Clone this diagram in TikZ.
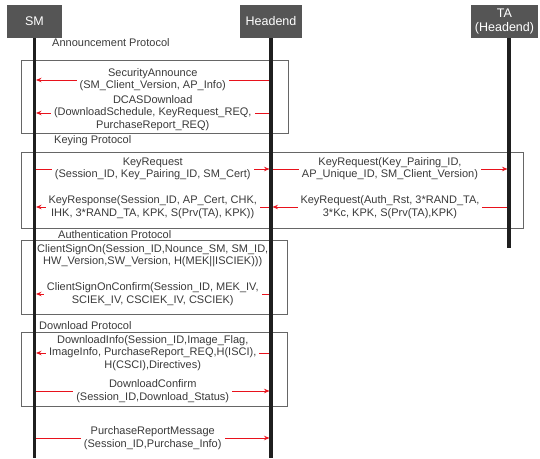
\documentclass[tikz,border=0pt]{standalone}
\usepackage{fontspec}
\setmainfont{Liberation Sans}
\usetikzlibrary{arrows.meta,calc}
\definecolor{hdr}{HTML}{555555}
\definecolor{msgred}{HTML}{E8121C}
\definecolor{txt}{HTML}{3A3A3A}
\definecolor{frm}{HTML}{666666}

% one message: y position, sender lifeline, receiver lifeline, label
\newcommand\sendmsg[4]{%
  \draw[msg] (#2 |- 0,#1) -- (#3 |- 0,#1);
  \node[lbl] at ($(#2 |- 0,#1)!.5!(#3 |- 0,#1)$) {#4};}

\begin{document}
\begin{tikzpicture}[x=1pt,y=-1pt,
  actor/.style={fill=hdr,text=white,font=\fontsize{12.5}{14}\selectfont,align=center,inner sep=0pt,minimum height=33pt},
  lifeline/.style={line width=3.4pt,draw=black!88},
  frame/.style={draw=frm,line width=0.8pt},
  ftitle/.style={anchor=west,text=txt,font=\fontsize{11}{12}\selectfont,inner sep=0pt},
  msg/.style={draw=msgred,line width=0.9pt,shorten >=1.5pt,shorten <=1.5pt,-{Stealth[length=5.5pt,width=4.5pt]}},
  lbl/.style={fill=white,text=txt,font=\fontsize{11}{12.3}\selectfont,align=center,inner xsep=3pt,inner ysep=0pt}]
\useasboundingbox (0,0) rectangle (540,458);

% participants
\node[actor,minimum width=55pt] (sm) at (34.5,21.5) {SM};
\node[actor,minimum width=62pt] (he) at (271,21.5) {Headend};
\node[actor,minimum width=67pt] (ta) at (504.5,21.5) {TA\\(Headend)};
\coordinate (smline) at (sm.south);
\coordinate (heline) at (he.south);
\coordinate (taline) at ($(ta.south)+(4.5,0)$);

% protocol frames
\draw[frame] (21,60) rectangle (288,133);
\draw[frame] (21,152) rectangle (523,228);
\draw[frame] (21,240) rectangle (287,314);
\draw[frame] (21,332) rectangle (287,406);
\node[ftitle] (t1) at (52,43) {Announcement Protocol};
\node[ftitle] (t2) at (54,141) {Keying Protocol};
\node[ftitle] (t3) at (58,235) {Authentication Protocol};
\node[ftitle] (t4) at (39,326) {Download Protocol};

% messages
\sendmsg{80}{heline}{smline}{SecurityAnnounce\\(SM\_Client\_Version, AP\_Info)}
\sendmsg{113}{heline}{smline}{DCASDownload\\(DownloadSchedule, KeyRequest\_REQ,\\PurchaseReport\_REQ)}
\sendmsg{169}{smline}{heline}{KeyRequest\\(Session\_ID, Key\_Pairing\_ID, SM\_Cert)}
\sendmsg{169}{heline}{taline}{KeyRequest(Key\_Pairing\_ID,\\AP\_Unique\_ID, SM\_Client\_Version)}
\sendmsg{207}{heline}{smline}{KeyResponse(Session\_ID, AP\_Cert, CHK,\\IHK, 3*RAND\_TA, KPK, S(Prv(TA), KPK))}
\sendmsg{207}{taline}{heline}{KeyRequest(Auth\_Rst, 3*RAND\_TA,\\3*Kc, KPK, S(Prv(TA),KPK)}
\sendmsg{256}{smline}{heline}{ClientSignOn(Session\_ID,Nounce\_SM, SM\_ID,\\HW\_Version,SW\_Version, H(MEK||ISCIEK)))}
\sendmsg{294}{heline}{smline}{ClientSignOnConfirm(Session\_ID, MEK\_IV,\\SCIEK\_IV, CSCIEK\_IV, CSCIEK)}
\sendmsg{353}{heline}{smline}{DownloadInfo(Session\_ID,Image\_Flag,\\ImageInfo, PurchaseReport\_REQ,H(ISCI),\\H(CSCI),Directives)}
\sendmsg{391}{smline}{heline}{DownloadConfirm\\(Session\_ID,Download\_Status)}
\sendmsg{438}{smline}{heline}{PurchaseReportMessage\\(Session\_ID,Purchase\_Info)}

% lifelines on top
\draw[lifeline] (smline) -- (smline |- 0,458);
\draw[lifeline] (heline) -- (heline |- 0,458);
\draw[lifeline] (taline) -- (taline |- 0,248);
\end{tikzpicture}
\end{document}
